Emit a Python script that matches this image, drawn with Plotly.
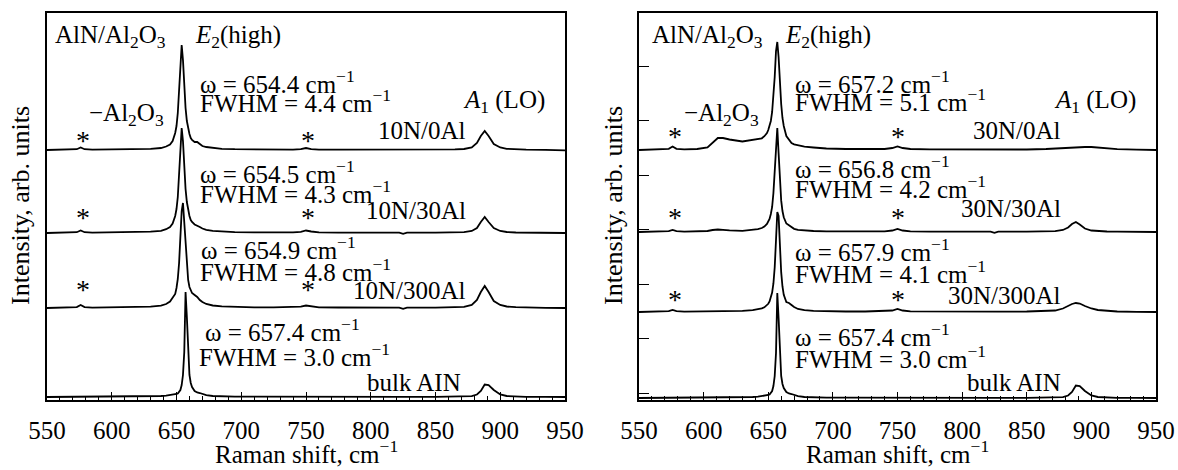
import plotly.graph_objects as go

# ---------------- data ----------------
raman_shift = [550, 560, 570, 573, 576, 579, 585, 595, 603, 607, 611, 615, 620, 630, 638, 642,
               645, 647, 649, 650, 651, 652, 653, 654, 655, 656, 657, 658, 659, 660, 661, 662,
               664, 666, 668, 670, 673, 678, 685, 695, 710, 725, 740, 746, 750, 754, 760, 775,
               790, 810, 822, 825, 828, 850, 865, 872, 878, 882, 885, 888, 891, 895, 900, 905,
               912, 920, 935, 950]

i_10N_0Al = [0, 0.2, 0.4, 0.8, 2.5, 0.8, 0.4, 0.5, 0.6, 0.6, 0.7, 0.7, 0.8, 1.2, 2, 3.5,
             5.5, 9, 17, 24, 37, 58, 88, 105, 90, 62, 42, 29, 21, 16, 12, 10,
             8, 8, 6, 4, 3, 2, 1.2, 0.8, 0.5, 0.4, 0.4, 0.8, 2, 0.8, 0.4, 0.3,
             0.3, 0.2, 0.2, 0.2, 0.2, 0.3, 0.6, 1, 2.5, 7, 14, 19, 14, 6, 2.5, 1.2,
             0.6, 0.3, 0.1, -0.3]

i_10N_30Al = [0, 0.2, 0.4, 0.8, 2.5, 0.8, 0.4, 0.5, 0.6, 0.6, 0.7, 0.8, 0.9, 1.3, 2.2, 3.8,
              6, 9.5, 17, 24, 36, 56, 85, 105, 92, 64, 44, 31, 22, 17, 13, 11,
              8.5, 7.5, 6, 4.5, 3.2, 2.2, 1.4, 0.9, 0.6, 0.5, 0.6, 1.2, 2.5, 1.5, 0.6, 0.4,
              0.3, 0.3, 0.3, -0.8, 0.3, 0.3, 0.5, 0.9, 2, 5, 11, 16, 11, 5, 2, 1,
              0.5, 0.3, 0.1, 0]

i_10N_300Al = [0, 0.2, 0.4, 0.9, 3, 0.9, 0.4, 0.5, 0.6, 0.7, 0.7, 0.8, 1, 1.4, 2.4, 4,
               6.5, 10, 14, 20, 29, 45, 68, 97, 105, 85, 58, 40, 28, 21, 17, 15,
               13, 11, 8, 6, 4, 2.5, 1.6, 1, 0.7, 0.6, 0.7, 1.3, 2.5, 1.6, 0.7, 0.5,
               0.4, 0.3, 0.3, -0.8, 0.3, 0.4, 0.8, 1.2, 3, 8, 16, 22, 16, 7, 3, 1.5,
               0.8, 0.4, 0.2, 0]

i_bulk = [0, 0.1, 0.2, 0.2, 0.2, 0.2, 0.2, 0.3, 0.3, 0.3, 0.3, 0.4, 0.4, 0.6, 1, 1.4,
          1.8, 2.2, 2.8, 3, 3.5, 5, 7, 12, 22, 45, 105, 80, 40, 22, 14, 10,
          6, 4.5, 4, 3, 1.8, 1, 0.6, 0.4, 0.3, 0.2, 0.2, 0.2, 0.2, 0.2, 0.2, 0.2,
          0.2, 0.2, 0.2, 0.2, 0.2, 0.2, 0.3, 0.5, 0.8, 2.5, 6, 12.5, 12, 7, 2.5, 1,
          0.5, 0.2, 0.1, 0]

i_30N_0Al = [0, 0.3, 0.5, 1.2, 3.5, 1.2, 0.6, 1, 2.5, 7, 12, 12, 10.5, 8.5, 10, 11,
             11.7, 13.8, 17, 20, 24, 29, 38, 52, 73, 99, 108, 93, 66, 46, 32, 24,
             14, 10, 7, 5.6, 4.5, 3.4, 2.5, 1.5, 1, 0.8, 1, 2, 3.5, 2, 1, 0.6,
             0.5, 0.5, 0.4, 0.4, 0.4, 0.5, 1, 1.5, 2, 2.5, 2.8, 3, 3, 3, 3, 2.5,
             1.5, 0.8, 0.3, 0]

i_30N_30Al = [0, 0.2, 0.4, 0.8, 2, 0.8, 0.4, 0.6, 1, 2, 2.5, 2.2, 1.6, 1.2, 2.1, 2.9,
              4, 5.4, 8, 10, 13, 18, 25, 39, 61, 92, 104, 79, 50, 31.6, 21, 14.7,
              8.5, 6.5, 5, 3.2, 2.2, 1.5, 1, 0.7, 0.5, 0.5, 0.7, 1.5, 3, 1.5, 0.6, 0.4,
              0.3, 0.3, 0.3, -0.8, 0.3, 0.3, 0.5, 0.8, 2, 4.5, 8, 10, 7.5, 3.5, 1.5, 0.8,
              0.5, 0.3, 0.1, 0]

i_30N_300Al = [0, 0.2, 0.4, 0.8, 2, 0.8, 0.4, 0.5, 0.7, 0.9, 1, 1, 1, 1.2, 1.9, 2.6,
               3.6, 4.7, 6.6, 8.2, 10.5, 14, 19.4, 28.5, 44.7, 72, 100, 96, 64.6, 39.8, 25.5, 17.2,
               10, 9, 7, 5, 3, 1.8, 1.1, 0.7, 0.5, 0.5, 0.7, 1.5, 3, 1.5, 0.7, 0.5,
               0.4, 0.4, 0.4, 0.4, 0.4, 0.5, 0.8, 1.5, 3.5, 6, 8, 9, 8.5, 6, 3.5, 2,
               1, 0.5, 0.2, 0]

left_spectra = [i_10N_0Al, i_10N_30Al, i_10N_300Al, i_bulk]
left_offsets = [250, 167, 92, 3]
right_spectra = [i_30N_0Al, i_30N_30Al, i_30N_300Al, i_bulk]
right_offsets = [250, 168, 88, 2]

x_ticks = [550, 600, 650, 700, 750, 800, 850, 900, 950]

# ---------------- figure ----------------
W, H = 1178, 470
FONT = "Liberation Serif"

def px(x):
    return x / W

def py(y):
    return 1 - y / H

fig = go.Figure()

for spec, off in zip(left_spectra, left_offsets):
    fig.add_trace(go.Scatter(x=raman_shift, y=[v + off for v in spec], mode="lines",
                             line=dict(color="black", width=1.8), xaxis="x", yaxis="y",
                             showlegend=False, hoverinfo="skip"))
for spec, off in zip(right_spectra, right_offsets):
    fig.add_trace(go.Scatter(x=raman_shift, y=[v + off for v in spec], mode="lines",
                             line=dict(color="black", width=1.8), xaxis="x2", yaxis="y2",
                             showlegend=False, hoverinfo="skip"))

xaxis_common = dict(range=[550, 950], tickmode="array", tickvals=x_ticks,
                    ticktext=[str(t) for t in x_ticks],
                    ticks="inside", ticklen=8, tickwidth=1.3, tickcolor="black",
                    minor=dict(dtick=10, ticks="inside", ticklen=4, tickwidth=1.1, tickcolor="black"),
                    showline=True, linecolor="black", linewidth=1.5, mirror=True,
                    showgrid=False, zeroline=False, automargin=False,
                    tickfont=dict(family=FONT, size=25, color="black"),
                    ticklabelstandoff=7)

yaxis_common = dict(range=[0, 387], showline=True, linecolor="black", linewidth=1.5,
                    mirror=True, showgrid=False, zeroline=False, showticklabels=False,
                    automargin=False)

fig.update_layout(
    width=W, height=H,
    margin=dict(l=0, r=0, t=0, b=0, autoexpand=False),
    paper_bgcolor="white", plot_bgcolor="white",
    xaxis=dict(domain=[px(47), px(565)], anchor="y", **xaxis_common),
    yaxis=dict(domain=[py(400), py(13)], anchor="x", ticks="", **yaxis_common),
    xaxis2=dict(domain=[px(639), px(1156)], anchor="y2", **xaxis_common),
    yaxis2=dict(domain=[py(400), py(13)], anchor="x2", ticks="inside", ticklen=10,
                tickwidth=1.3, tickcolor="black", tickmode="linear", tick0=7, dtick=54.5,
                **yaxis_common),
)

SUP = "cm<sup>−1</sup>"
FS = 25
labels = [
    # left panel
    ("AlN/Al<sub>2</sub>O<sub>3</sub>", 53, 37, "left"),
    ("<i>E</i><sub>2</sub>(high)", 193, 37, "left"),
    ("ω = 654.4 " + SUP, 198, 82, "left"),
    ("FWHM = 4.4 " + SUP, 198, 101, "left"),
    ("<i>A</i><sub>1</sub> (LO)", 547, 102, "right"),
    ("−Al<sub>2</sub>O<sub>3</sub>", 87, 115, "left"),
    ("10N/0Al", 468, 130, "right"),
    ("ω = 654.5 " + SUP, 198, 172, "left"),
    ("FWHM = 4.3 " + SUP, 198, 192, "left"),
    ("10N/30Al", 468, 210, "right"),
    ("ω = 654.9 " + SUP, 199, 248, "left"),
    ("FWHM = 4.8 " + SUP, 198, 270, "left"),
    ("10N/300Al", 468, 290, "right"),
    ("ω = 657.4 " + SUP, 203, 330, "left"),
    ("FWHM = 3.0 " + SUP, 197, 355, "left"),
    ("bulk AIN", 463, 382, "right"),
    # right panel
    ("AlN/Al<sub>2</sub>O<sub>3</sub>", 650, 37, "left"),
    ("<i>E</i><sub>2</sub>(high)", 783, 37, "left"),
    ("ω = 657.2 " + SUP, 793, 82, "left"),
    ("FWHM = 5.1 " + SUP, 793, 100, "left"),
    ("<i>A</i><sub>1</sub> (LO)", 1138, 102, "right"),
    ("−Al<sub>2</sub>O<sub>3</sub>", 682, 115, "left"),
    ("30N/0Al", 1063, 130, "right"),
    ("ω = 656.8 " + SUP, 793, 167, "left"),
    ("FWHM = 4.2 " + SUP, 793, 187, "left"),
    ("30N/30Al", 1063, 208, "right"),
    ("ω = 657.9 " + SUP, 793, 250, "left"),
    ("FWHM = 4.1 " + SUP, 793, 272, "left"),
    ("30N/300Al", 1063, 295, "right"),
    ("ω = 657.4 " + SUP, 793, 335, "left"),
    ("FWHM = 3.0 " + SUP, 793, 357, "left"),
    ("bulk AIN", 1063, 382, "right"),
]
stars = [(83, 140), (308, 140), (83, 217), (308, 217), (83, 289), (308, 289),
         (675, 136), (898, 136), (675, 217), (898, 217), (675, 299), (898, 299)]

ann = []
for text, x, y, xa in labels:
    ann.append(dict(text=text, x=px(x), y=py(y), xref="paper", yref="paper",
                    xanchor=xa, yanchor="middle", showarrow=False,
                    font=dict(family=FONT, size=FS, color="black")))
for x, y in stars:
    ann.append(dict(text="*", x=px(x), y=py(y), xref="paper", yref="paper",
                    xanchor="center", yanchor="middle", showarrow=False,
                    font=dict(family=FONT, size=28, color="black")))
# axis titles
for cx in (306, 897.5):
    ann.append(dict(text="Raman shift, " + SUP, x=px(cx), y=py(452), xref="paper", yref="paper",
                    xanchor="center", yanchor="middle", showarrow=False,
                    font=dict(family=FONT, size=25, color="black")))
for cx in (20, 613):
    ann.append(dict(text="Intensity, arb. units", x=px(cx), y=py(206), xref="paper", yref="paper",
                    xanchor="center", yanchor="middle", showarrow=False, textangle=-90,
                    font=dict(family=FONT, size=26, color="black")))

fig.update_layout(annotations=ann)
fig.write_html("out.html", config={"displayModeBar": False},
               post_script="document.body.style.margin='0';document.body.style.overflow='hidden';")
